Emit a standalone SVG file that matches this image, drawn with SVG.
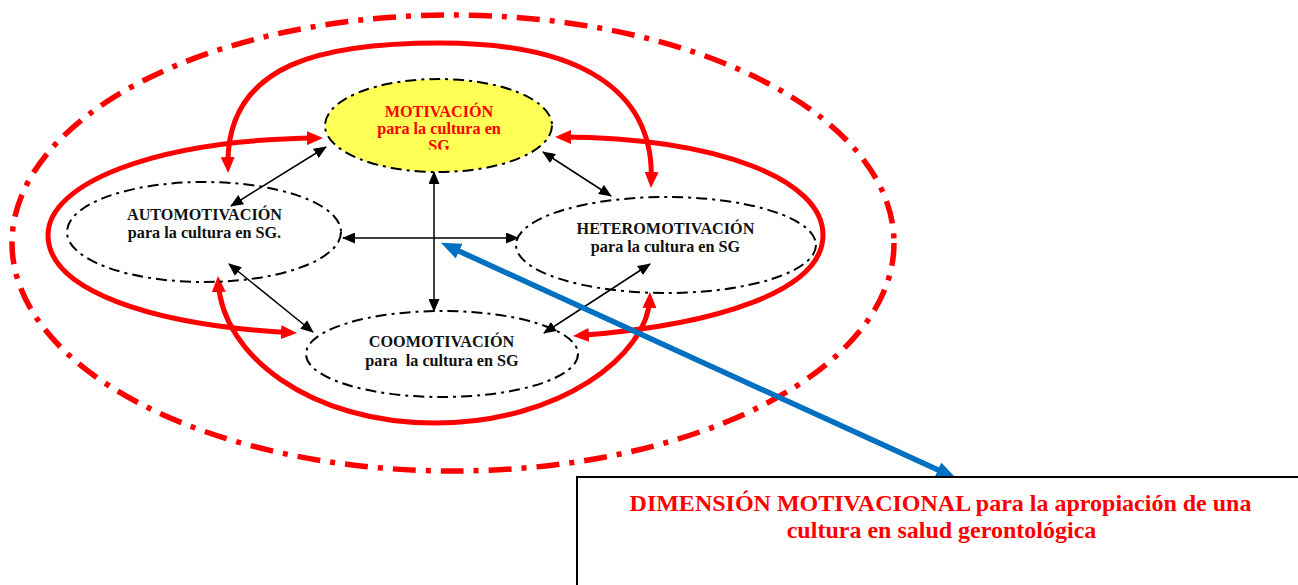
<svg xmlns="http://www.w3.org/2000/svg" width="1298" height="585" viewBox="0 0 1298 585">
  <style>
    .node-outline { fill: none; stroke: #000; stroke-width: 2; stroke-dasharray: 11 5 3 5; }
    .label { font-family: "Liberation Serif", "Times New Roman", serif; font-weight: bold; font-size: 16.2px; text-anchor: middle; fill: #111; }
    .label-red { fill: #ff0000; }
    .cycle { fill: none; stroke: #ff0000; stroke-width: 5; marker-start: url(#redHead); marker-end: url(#redHead); }
    .link { fill: none; stroke: #000; stroke-width: 1.5; marker-start: url(#blackHead); marker-end: url(#blackHead); }
    .caption { font-family: "Liberation Serif", "Times New Roman", serif; font-weight: bold; font-size: 24px; text-anchor: middle; fill: #ff0000; }
  </style>
  <defs>
    <marker id="redHead" markerUnits="userSpaceOnUse" viewBox="0 0 16 14" markerWidth="16" markerHeight="14" refX="10" refY="7" orient="auto-start-reverse">
      <path d="M0,0 L16,7 L0,14 z" fill="#ff0000"/>
    </marker>
    <marker id="blackHead" markerUnits="userSpaceOnUse" viewBox="0 0 13 11" markerWidth="13" markerHeight="11" refX="12" refY="5.5" orient="auto-start-reverse">
      <path d="M0,0 L13,5.5 L0,11 z" fill="#000"/>
    </marker>
    <marker id="blueHead" markerUnits="userSpaceOnUse" viewBox="0 0 20 16" markerWidth="20" markerHeight="16" refX="10" refY="8" orient="auto-start-reverse">
      <path d="M0,0 L20,8 L0,16 z" fill="#0070c0"/>
    </marker>
    <clipPath id="motivClip">
      <rect x="320" y="90" width="240" height="59.5"/>
    </clipPath>
  </defs>

  <rect width="1298" height="585" fill="#fff"/>

  <!-- outer boundary of the motivational dimension -->
  <g id="boundary">
    <ellipse cx="453" cy="243" rx="441" ry="228" fill="none" stroke="#ff0000" stroke-width="5.5" stroke-dasharray="23 10 5 10"/>
  </g>

  <!-- red feedback loops between the components -->
  <g id="cycles">
    <path class="cycle" d="M317,138 C150,140 48,185 48,235 C48,290 150,325 291,332.7"/>
    <path class="cycle" d="M561,137 C720,138 823,180 823,235 C823,290 720,325 579,335.6"/>
    <path class="cycle" d="M228,167 C225,60 330,43 440,43 C580,43 655,90 651.2,182"/>
    <path class="cycle" d="M218.3,282 C222,355 310,423 435,423 C560,423 648,355 649.8,298"/>
  </g>

  <!-- black links between the four components -->
  <g id="links">
    <path class="link" d="M434,172 L434,311"/>
    <path class="link" d="M343,238 L518,238"/>
    <path class="link" d="M231,206 L326,147"/>
    <path class="link" d="M543,152 L611,196"/>
    <path class="link" d="M229,264 L313,332"/>
    <path class="link" d="M650,264 L544,333"/>
    <path d="M450,247 L947,474" fill="none" stroke="#0070c0" stroke-width="5.5" marker-start="url(#blueHead)" marker-end="url(#blueHead)"/>
  </g>

  <g id="motivacion">
    <ellipse cx="438.5" cy="125.5" rx="113.5" ry="46.5" fill="#ffff55" stroke="#000" stroke-width="2" stroke-dasharray="11 5 3 5"/>
    <g clip-path="url(#motivClip)">
      <text class="label label-red" x="439" y="117">MOTIVACIÓN</text>
      <text class="label label-red" x="439" y="134">para la cultura en</text>
      <text class="label label-red" x="439" y="151">SG</text>
    </g>
  </g>

  <g id="automotivacion">
    <ellipse class="node-outline" cx="204" cy="232" rx="137" ry="50"/>
    <text class="label" x="204.5" y="220">AUTOMOTIVACIÓN</text>
    <text class="label" x="204.5" y="238">para la cultura en SG.</text>
  </g>

  <g id="heteromotivacion">
    <ellipse class="node-outline" cx="666" cy="245" rx="150" ry="48"/>
    <text class="label" x="665.5" y="234">HETEROMOTIVACIÓN</text>
    <text class="label" x="665.5" y="252">para la cultura en SG</text>
  </g>

  <g id="coomotivacion">
    <ellipse class="node-outline" cx="442" cy="354" rx="136" ry="43"/>
    <text class="label" x="441.5" y="347">COOMOTIVACIÓN</text>
    <text class="label" x="442" y="366" xml:space="preserve" style="white-space:pre">para  la cultura en SG</text>
  </g>

  <g id="dimension">
    <rect x="577" y="477" width="740" height="130" fill="#fff" stroke="#000" stroke-width="2"/>
    <text class="caption" x="940.5" y="511">DIMENSIÓN MOTIVACIONAL para la apropiación de una</text>
    <text class="caption" x="941.5" y="538">cultura en salud gerontológica</text>
  </g>
</svg>
